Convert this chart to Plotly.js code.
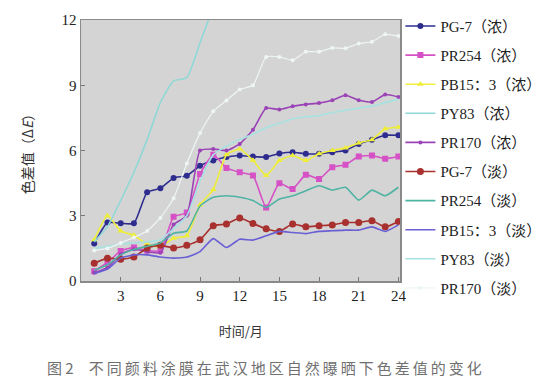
<!DOCTYPE html>
<html>
<head>
<meta charset="utf-8">
<script src="https://cdn.plot.ly/plotly-3.0.1.min.js"></script>
<style>html,body{margin:0;padding:0;background:#fff;}#chart{width:560px;height:390px;}</style>
</head>
<body>
<div id="chart"></div>
<script>
const months = [1,2,3,4,5,6,7,8,9,10,11,12,13,14,15,16,17,18,19,20,21,22,23,24];
const seriesNames = ["PG-7（浓）","PR254（浓）","PB15：3（浓）","PY83（浓）","PR170（浓）",
                     "PG-7（淡）","PR254（淡）","PB15：3（淡）","PY83（淡）","PR170（淡）"];
const pg7Thick   = [1.72,2.69,2.65,2.65,4.08,4.26,4.74,4.84,5.30,5.54,5.70,5.77,5.72,5.70,5.86,5.92,5.85,5.85,5.92,6.00,6.30,6.50,6.70,6.70];
const pr254Thick = [0.45,0.85,1.38,1.54,1.40,1.40,2.95,3.15,4.92,5.80,5.20,5.00,4.85,3.38,4.49,4.23,4.89,4.69,5.23,5.35,5.72,5.77,5.62,5.72];
const pb153Thick = [1.90,3.00,2.30,2.10,1.70,1.57,1.97,2.08,3.50,4.20,5.80,6.07,5.55,4.85,5.54,5.77,5.54,5.85,6.00,6.12,6.35,6.50,7.00,7.07];
const py83Thick  = [1.80,2.50,3.70,5.00,6.50,8.20,9.20,9.35,10.95,12.60];
const pr170Thick = [0.38,0.62,1.23,1.46,1.35,1.30,2.60,3.00,6.00,6.07,6.00,6.30,6.95,7.95,7.88,8.03,8.12,8.18,8.31,8.54,8.31,8.23,8.57,8.46];
const pg7Light   = [0.82,1.05,1.00,1.10,1.52,1.64,1.52,1.64,1.90,2.54,2.62,2.90,2.64,2.40,2.28,2.62,2.49,2.54,2.58,2.69,2.69,2.77,2.49,2.74];
const pr254Light = [0.50,0.75,1.20,1.45,1.60,1.75,2.20,2.30,3.45,3.85,3.92,3.85,3.70,3.38,3.77,3.92,4.15,4.38,4.18,4.31,3.72,4.18,3.92,4.31];
const pb153Light = [0.35,0.55,1.05,1.20,1.20,1.10,1.05,1.10,1.35,1.95,1.54,1.92,1.88,2.08,2.28,2.23,2.18,2.28,2.31,2.34,2.34,2.49,2.28,2.58];
const py83Light  = [1.50,1.60,1.70,1.75,1.80,1.90,2.40,3.00,4.60,5.80,6.20,6.50,6.75,7.05,7.25,7.45,7.55,7.60,7.75,7.85,7.95,8.05,8.20,8.35];
const pr170Light = [1.40,1.50,1.75,2.00,2.30,2.90,3.80,5.40,6.80,7.80,8.30,8.80,9.00,10.30,10.30,10.15,10.54,10.54,10.72,10.70,10.92,11.00,11.34,11.26];
const xTicks = [3,6,9,12,15,18,21,24];
const yTicks = [0,3,6,9,12];
const captionText = "不同颜料涂膜在武汉地区自然曝晒下色差值的变化";

const values = [pg7Thick,pr254Thick,pb153Thick,py83Thick,pr170Thick,pg7Light,pr254Light,pb153Light,py83Light,pr170Light];
const styles = [
  {color:"#2e2d8f", width:1.6, marker:{symbol:"circle", size:6}},
  {color:"#d650c6", width:1.6, marker:{symbol:"square", size:6}},
  {color:"#eeee3a", width:1.6, marker:{symbol:"triangle-up", size:6}},
  {color:"#8fd8d6", width:1.6, marker:null},
  {color:"#9a42b6", width:1.6, marker:{symbol:"circle", size:4}},
  {color:"#a8302e", width:1.6, marker:{symbol:"circle", size:7}},
  {color:"#4fb3a3", width:1.6, marker:null},
  {color:"#6a5fd4", width:1.6, marker:null},
  {color:"#a6e2e2", width:1.6, marker:null},
  {color:"#eef5f5", width:1.2, marker:{symbol:"circle", size:4}}
];

const traces = values.map((v, i) => {
  const s = styles[i];
  const t = {
    x: months.slice(0, v.length), y: v, name: seriesNames[i],
    legendgroup: "g" + i,
    type: "scatter",
    mode: s.marker ? "lines+markers" : "lines",
    line: {color: s.color, width: s.width, shape: "spline", smoothing: 0.5},
    cliponaxis: true
  };
  if (s.marker) t.marker = {symbol: s.marker.symbol, size: s.marker.size, color: s.color};
  return t;
});

const serif = "Liberation Serif, Times New Roman, Noto Sans CJK SC, serif";
const spaced = Array.from(captionText).join("\u2009");
const layout = {
  width: 560, height: 390,
  paper_bgcolor: "#ffffff",
  plot_bgcolor: "#d4d4d4",
  margin: {l: 81, r: 158, t: 20, b: 109},
  showlegend: true,
  legend: {
    xref: "container", yref: "container",
    x: 0.715, y: 0.975, xanchor: "left", yanchor: "top",
    traceorder: "grouped", tracegroupgap: 6.6,
    itemwidth: 30, maxheight: 390,
    font: {family: serif, size: 15, color: "#222"},
    bgcolor: "rgba(0,0,0,0)"
  },
  xaxis: {
    range: [0, 24.15], tickvals: xTicks, ticktext: xTicks.map(String),
    ticks: "inside", ticklen: 4, tickcolor: "#777",
    showline: true, mirror: true, linecolor: "#8a8a8a", linewidth: 1.5,
    showgrid: false, zeroline: false,
    tickfont: {family: serif, size: 15, color: "#222"},
    title: {text: "时间/月", font: {family: "Noto Sans CJK SC, sans-serif", size: 13, color: "#333"}, standoff: 24}
  },
  yaxis: {
    range: [0, 12], tickvals: yTicks, ticktext: yTicks.map(String),
    ticks: "inside", ticklen: 4, tickcolor: "#777",
    showline: true, mirror: true, linecolor: "#8a8a8a", linewidth: 1.5,
    showgrid: false, zeroline: false,
    tickfont: {family: serif, size: 15, color: "#222"},
    title: {text: "色差值（Δ<i>E</i>）", font: {family: "Noto Sans CJK SC, sans-serif", size: 14, color: "#333"}, standoff: 24}
  },
  annotations: [{
    xref: "paper", yref: "paper", x: 0.573, y: -0.333, xanchor: "center", yanchor: "middle",
    showarrow: false,
    text: "图 2　" + spaced,
    font: {family: "Noto Sans CJK SC, sans-serif", size: 15, color: "#707070"}
  }]
};

Plotly.newPlot("chart", traces, layout, {staticPlot: true, displayModeBar: false});
</script>
</body>
</html>
